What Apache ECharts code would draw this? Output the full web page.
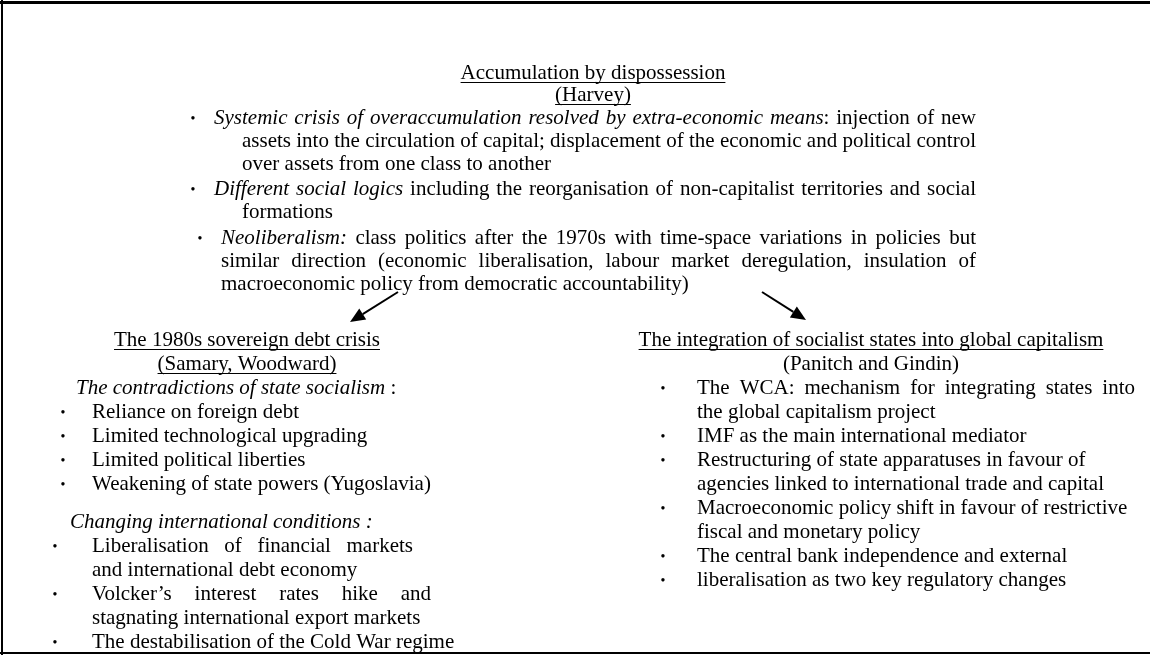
<!DOCTYPE html>
<html>
<head>
<meta charset="utf-8">
<script src="https://cdn.jsdelivr.net/npm/echarts@6/dist/echarts.min.js"></script>
<style>
html, body { margin: 0; padding: 0; background: #fff; }
#container { width: 1150px; height: 655px; }
</style>
</head>
<body>
<div id="container"></div>
<script>
// ---- content ----
var harveyHeads = ['Accumulation by dispossession', '(Harvey)'];
// each point: italic lead, then the rest of the text broken as in the figure
var harveyPoints = [
    { lead: 'Systemic crisis of overaccumulation resolved by extra-economic means',
      lines: [': injection of new',
              'assets into the circulation of capital; displacement of the economic and political control',
              'over assets from one class to another'] },
    { lead: 'Different social logics',
      lines: [' including the reorganisation of non-capitalist territories and social',
              'formations'] },
    { lead: 'Neoliberalism:',
      lines: [' class politics after the 1970s with time-space variations in policies but',
              'similar direction (economic liberalisation, labour market deregulation, insulation of',
              'macroeconomic policy from democratic accountability)'] }
];

var debtHeads = ['The 1980s sovereign debt crisis', '(Samary, Woodward)'];
var socialismHead = 'The contradictions of state socialism';
var socialismItems = [
    ['Reliance on foreign debt'],
    ['Limited technological upgrading'],
    ['Limited political liberties'],
    ['Weakening of state powers (Yugoslavia)']
];
var conditionsHead = 'Changing international conditions';
var conditionsItems = [
    ['Liberalisation of financial markets', 'and international debt economy'],
    ['Volcker\u2019s interest rates hike and', 'stagnating international export markets'],
    ['The destabilisation of the Cold War regime']
];

var integrationHeads = ['The integration of socialist states into global capitalism', '(Panitch and Gindin)'];
var integrationItems = [
    ['The WCA: mechanism for integrating states into', 'the global capitalism project'],
    ['IMF as the main international mediator'],
    ['Restructuring of state apparatuses in favour of', 'agencies linked to international trade and capital'],
    ['Macroeconomic policy shift in favour of restrictive', 'fiscal and monetary policy'],
    ['The central bank independence and external'],
    ['liberalisation as two key regulatory changes']
];

// ---- layout helpers ----
var FONT = '"Liberation Serif", "Times New Roman", serif';
var SIZE = 21;
var ctx = document.createElement('canvas').getContext('2d');
function fontStr(size, it) {
    return (it ? 'italic' : 'normal') + ' normal ' + size + 'px ' + FONT;
}
function measure(t, size, it) {
    ctx.font = fontStr(size, it);
    return ctx.measureText(t).width;
}
var els = [];
function txt(t, x, y, size, it, align) {
    els.push({
        type: 'text', silent: true,
        style: {
            text: t, x: x, y: y, font: fontStr(size, it), fill: '#000',
            textAlign: align || 'left', align: align || 'left',
            textVerticalAlign: 'middle', verticalAlign: 'middle'
        }
    });
}
function line(x1, y1, x2, y2, w) {
    els.push({ type: 'line', silent: true, shape: { x1: x1, y1: y1, x2: x2, y2: y2 },
               style: { stroke: '#000', lineWidth: w } });
}
function bullet(x, y) {
    txt('\u2022', x, y + 1, 14, false, 'center');
}
function heading(t, cx, y, underline) {
    txt(t, cx, y, SIZE, false, 'center');
    if (underline) {
        var w = measure(t, SIZE, false);
        line(cx - w / 2, y + 9.5, cx + w / 2, y + 9.5, 1);
    }
}
// runs: [[text, italic], ...]; optional justify to a right edge
function runs(list, x, y, right) {
    var words = [], pending = false;
    list.forEach(function (r) {
        r[0].split(' ').forEach(function (p, i) {
            if (i > 0) pending = true;
            if (p === '') return;
            words.push({ t: p, it: r[1], sp: pending && words.length > 0 });
            pending = false;
        });
    });
    var widths = words.map(function (w) { return measure(w.t, SIZE, w.it); });
    var sum = widths.reduce(function (a, b) { return a + b; }, 0);
    var gaps = words.filter(function (w) { return w.sp; }).length;
    var sp = measure(' ', SIZE, false);
    if (right && gaps) sp = (right - x - sum) / gaps;
    var cx = x;
    words.forEach(function (w, i) {
        if (w.sp) cx += sp;
        txt(w.t, cx, y, SIZE, w.it);
        cx += widths[i];
    });
}
function arrow(x1, y1, x2, y2) {
    var a = Math.atan2(y2 - y1, x2 - x1), L = 15, H = 6.5;
    var bx = x2 - L * Math.cos(a), by = y2 - L * Math.sin(a);
    line(x1, y1, bx, by, 2);
    els.push({ type: 'polygon', silent: true,
        shape: { points: [[x2, y2],
                          [bx + H * Math.sin(a), by - H * Math.cos(a)],
                          [bx - H * Math.sin(a), by + H * Math.cos(a)]] },
        style: { fill: '#000' } });
}

// ---- frame ----
line(0, 2.5, 1150, 2.5, 3);
line(2, 0, 2, 655, 2);
line(0, 653, 1150, 653, 2);

// ---- top block ----
var topY = [73, 95, 118, 141, 164, 189, 212, 238, 261, 284];
heading(harveyHeads[0], 593, topY[0], true);
heading(harveyHeads[1], 593, topY[1], true);
var topBulletX = [193, 193, 200], topTextX = [214, 214, 221], topIndent = [242, 242, 221];
var TOP_RIGHT = 976;
var row = 2;
harveyPoints.forEach(function (p, k) {
    bullet(topBulletX[k], topY[row]);
    p.lines.forEach(function (l, j) {
        var last = j === p.lines.length - 1;
        var list = j === 0 ? [[p.lead, 1], [l, 0]] : [[l, 0]];
        runs(list, j === 0 ? topTextX[k] : topIndent[k], topY[row], last ? 0 : TOP_RIGHT);
        row++;
    });
});

arrow(398, 292, 350, 322);
arrow(762, 292, 806, 320);

// ---- left column ----
var STEP = 24;
heading(debtHeads[0], 247, 340, true);
heading(debtHeads[1], 247, 364, true);
runs([[socialismHead, 1], [' :', 0]], 76, 388);
socialismItems.forEach(function (it, i) {
    bullet(63, 412 + i * STEP);
    runs([[it[0], 0]], 92, 412 + i * STEP);
});
runs([[conditionsHead + ' :', 1]], 70, 522);
var leftRight = [413, 431, 0];
var ly = 546;
conditionsItems.forEach(function (it, i) {
    bullet(55, ly);
    it.forEach(function (l, j) {
        var last = j === it.length - 1;
        runs([[l, 0]], 92, ly, last ? 0 : leftRight[i]);
        ly += STEP;
    });
});

// ---- right column ----
heading(integrationHeads[0], 871, 340, true);
heading(integrationHeads[1], 871, 364, false);
var rightJust = [1135, 0, 0, 0, 0, 0];
var ry = 388;
integrationItems.forEach(function (it, i) {
    bullet(663, ry);
    it.forEach(function (l, j) {
        var last = j === it.length - 1;
        runs([[l, 0]], 697, ry, last ? 0 : rightJust[i]);
        ry += STEP;
    });
});

var dom = document.getElementById('container');
var myChart = echarts.init(dom);
var option = {
    backgroundColor: '#fff',
    animation: false,
    graphic: { elements: els }
};
myChart.setOption(option, true);
</script>
</body>
</html>
